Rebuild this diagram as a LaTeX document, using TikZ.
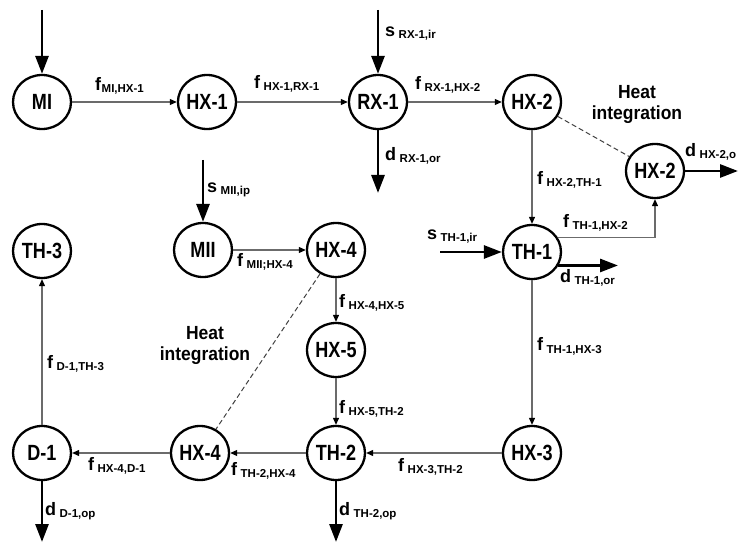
\documentclass[tikz,border=0pt]{standalone}
\usepackage{fontspec}
\setmainfont{Liberation Sans}
\newfontfamily\unitfont{Liberation Sans}[FakeStretch=0.82]
\newfontfamily\notefont{Liberation Sans}[FakeStretch=0.92]
\usetikzlibrary{arrows.meta,shapes.geometric}

% stream symbol with a spaced subscript, and one without the gap
\newcommand{\strm}[2]{\fontsize{18}{18}\selectfont\bfseries #1\hspace{3.5pt}\raisebox{-2pt}{\fontsize{11.5}{11.5}\selectfont #2}}
\newcommand{\strmtight}[2]{\fontsize{18}{18}\selectfont\bfseries #1\hspace{0.5pt}\raisebox{-2pt}{\fontsize{11.5}{11.5}\selectfont #2}}

\begin{document}
\begin{tikzpicture}[x=1pt,y=-1pt,
  unit/.style={ellipse,draw=black,line width=2.3pt,minimum width=58pt,minimum height=54pt,inner sep=0pt,
    font=\unitfont\bfseries\fontsize{22}{22}\selectfont},
  flow/.style={draw=black!58,line width=1.1pt,-{Triangle[length=7pt,width=6pt,color=black]}},
  bulk/.style={draw=black,line width=2.8pt,-{Triangle[length=18pt,width=13pt]}},
  link/.style={draw=black!75,line width=1pt,dash pattern=on 5pt off 3pt},
  lbl/.style={anchor=base west,inner sep=0pt},
  note/.style={align=center,inner sep=0pt,font=\notefont\bfseries\fontsize{19}{21}\selectfont}]
\useasboundingbox (0,0) rectangle (739,545);

% process units
\node[unit] (MI)   at (42,102)  {MI};
\node[unit] (HX1)  at (207,102) {HX-1};
\node[unit] (RX1)  at (378,102) {RX-1};
\node[unit] (HX2)  at (532,102) {HX-2};
\node[unit] (HX2b) at (655,171) {HX-2};
\node[unit] (TH1)  at (532,252) {TH-1};
\node[unit] (HX3)  at (532,453) {HX-3};
\node[unit] (TH3)  at (42,251)  {TH-3};
\node[unit] (MII)  at (203,250) {MII};
\node[unit] (HX4)  at (336,250) {HX-4};
\node[unit] (HX5)  at (336,350) {HX-5};
\node[unit] (TH2)  at (336,453) {TH-2};
\node[unit] (HX4b) at (200,453) {HX-4};
\node[unit] (D1)   at (42,453)  {D-1};

% free ends of feeds and products
\coordinate (inMI)   at (42,10);
\coordinate (inRX1)  at (378,10);
\coordinate (outRX1) at (378,193);
\coordinate (inMII)  at (203,160);
\coordinate (inTH1)  at (440,252);
\coordinate (outTH1) at (618,266);
\coordinate (outHX2) at (738,171);
\coordinate (outD1)  at (42,542);
\coordinate (outTH2) at (336,542);

% feeds and products
\draw[bulk] (inMI) -- (MI.north);
\draw[bulk] (inRX1) -- (RX1.north);
\draw[bulk] (RX1.south) -- (outRX1);
\draw[bulk] (inMII) -- (MII.north);
\draw[bulk] (inTH1) -- (TH1.west);
\draw[bulk] (TH1.-27) -- (TH1.-27 -| outTH1);
\draw[bulk] (HX2b.east) -- (outHX2);
\draw[bulk] (D1.south) -- (outD1);
\draw[bulk] (TH2.south) -- (outTH2);

% internal flows
\draw[flow] (MI) -- (HX1);
\draw[flow] (HX1) -- (RX1);
\draw[flow] (RX1) -- (HX2);
\draw[flow] (HX2) -- (TH1);
\draw[flow] (TH1.30) -| (HX2b.south);
\draw[flow] (TH1) -- (HX3);
\draw[flow] (HX3) -- (TH2);
\draw[flow] (TH2) -- (HX4b);
\draw[flow] (HX4b) -- (D1);
\draw[flow] (D1) -- (TH3);
\draw[flow] (MII) -- (HX4);
\draw[flow] (HX4) -- (HX5);
\draw[flow] (HX5) -- (TH2);

% heat integration pairs
\draw[link] (HX2) -- (HX2b);
\draw[link] (HX4) -- (HX4b);
\node[note] (heatA) at (637,104) {Heat\\integration};
\node[note] (heatB) at (205,345) {Heat\\integration};

% stream labels
\node[lbl] (fMIHX1)   at (95,91)   {\strmtight{f}{MI,HX-1}};
\node[lbl] (fHX1RX1)  at (254,89)  {\strm{f}{HX-1,RX-1}};
\node[lbl] (fRX1HX2)  at (415,90)  {\strm{f}{RX-1,HX-2}};
\node[lbl] (sRX1)     at (385,37)  {\strm{s}{RX-1,ir}};
\node[lbl] (dRX1)     at (385,161) {\strm{d}{RX-1,or}};
\node[lbl] (fHX2TH1)  at (537,185) {\strm{f}{HX-2,TH-1}};
\node[lbl] (dHX2)     at (685,157) {\strm{d}{HX-2,o}};
\node[lbl] (fTH1HX2)  at (563,228) {\strm{f}{TH-1,HX-2}};
\node[lbl] (sTH1)     at (427,240) {\strm{s}{TH-1,ir}};
\node[lbl] (dTH1)     at (560,283) {\strm{d}{TH-1,or}};
\node[lbl] (fTH1HX3)  at (537,351) {\strm{f}{TH-1,HX-3}};
\node[lbl] (fHX3TH2)  at (398,471) {\strm{f}{HX-3,TH-2}};
\node[lbl] (fHX4HX5)  at (339,308) {\strm{f}{HX-4,HX-5}};
\node[lbl] (fHX5TH2)  at (339,413) {\strm{f}{HX-5,TH-2}};
\node[lbl] (sMII)     at (207,193) {\strm{s}{MII,ip}};
\node[lbl] (fMIIHX4)  at (237,267) {\strm{f}{MII;HX-4}};
\node[lbl] (fTH2HX4)  at (231,475) {\strm{f}{TH-2,HX-4}};
\node[lbl] (fHX4D1)   at (88,470)  {\strm{f}{HX-4,D-1}};
\node[lbl] (fD1TH3)   at (47,368)  {\strm{f}{D-1,TH-3}};
\node[lbl] (dD1)      at (45,515)  {\strm{d}{D-1,op}};
\node[lbl] (dTH2)     at (339,515) {\strm{d}{TH-2,op}};
\end{tikzpicture}
\end{document}
